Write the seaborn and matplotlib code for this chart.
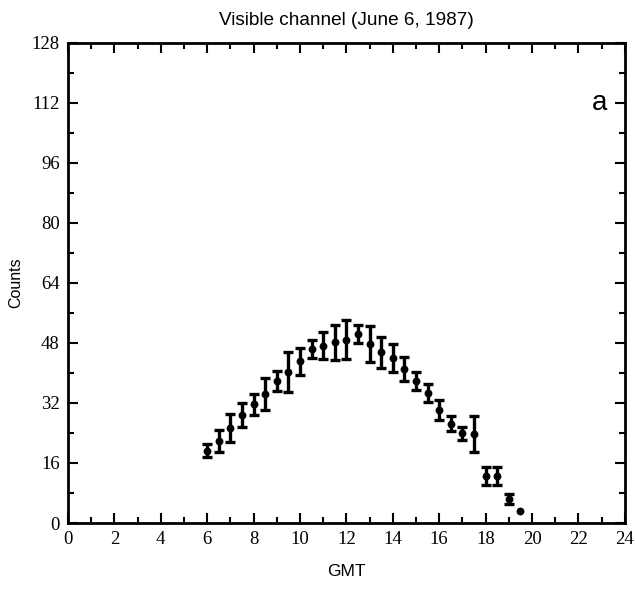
import matplotlib
matplotlib.use("Agg")
import matplotlib.pyplot as plt
import seaborn as sns
import numpy as np
import pandas as pd
from matplotlib.ticker import MultipleLocator

# Data
gmt = [6.0, 6.5, 7.0, 7.5, 8.0, 8.5, 9.0, 9.5, 10.0, 10.5, 11.0, 11.5, 12.0, 12.5,
       13.0, 13.5, 14.0, 14.5, 15.0, 15.5, 16.0, 16.5, 17.0, 17.5, 18.0, 18.5, 19.0, 19.5]
counts = [19.3, 21.8, 25.4, 28.8, 31.6, 34.4, 37.9, 40.2, 43.1, 46.4, 47.3, 48.2, 48.8, 50.4,
          47.7, 45.5, 44.0, 41.0, 37.9, 34.7, 30.2, 26.5, 23.9, 23.8, 12.4, 12.4, 6.4, 3.2]
err = [1.7, 2.9, 3.7, 3.1, 2.9, 4.3, 2.6, 5.3, 3.6, 2.3, 3.7, 4.7, 5.2, 2.5,
       4.9, 4.2, 3.7, 3.2, 2.4, 2.4, 2.7, 2.0, 1.8, 4.8, 2.4, 2.4, 1.3, 0.0]

df = pd.DataFrame({"GMT": gmt, "Counts": counts, "err": err})

sns.set_theme(style="ticks")
plt.rcParams["font.family"] = ["Liberation Sans", "DejaVu Sans"]
plt.rcParams["text.color"] = "black"
plt.rcParams["axes.labelcolor"] = "black"

fig = plt.figure(figsize=(6.35, 5.95), dpi=100)
ax = fig.add_axes([0.107, 0.121, 0.877, 0.807])

bars = df[df["err"] > 0]
ax.errorbar(bars["GMT"], bars["Counts"], yerr=bars["err"], fmt="none", ecolor="black",
            elinewidth=2.4, capsize=3.8, capthick=2.4, zorder=2)
sns.scatterplot(data=df, x="GMT", y="Counts", ax=ax, color="black", s=32,
                edgecolor="black", linewidth=0, marker="o", zorder=3, legend=False)

ax.set_xlim(0, 24)
ax.set_ylim(0, 128)
ax.xaxis.set_major_locator(MultipleLocator(2))
ax.xaxis.set_minor_locator(MultipleLocator(1))
ax.yaxis.set_major_locator(MultipleLocator(16))
ax.yaxis.set_minor_locator(MultipleLocator(8))
ax.tick_params(which="both", direction="in", top=True, right=True, width=1.5,
               colors="black", labelcolor="black")
ax.tick_params(which="major", length=7)
ax.tick_params(which="minor", length=4)
ax.tick_params(axis="both", which="major", labelsize=13.5, pad=6)
for lab in ax.get_xticklabels() + ax.get_yticklabels():
    lab.set_family(["Liberation Serif", "DejaVu Serif"])
for sp in ax.spines.values():
    sp.set_linewidth(2)
    sp.set_color("black")

ax.set_xlabel("GMT", fontsize=12.5, labelpad=11, color="black")
ax.set_ylabel("Counts", fontsize=11.5, labelpad=6, color="black")
ax.set_title("Visible channel (June 6, 1987)", fontsize=13.7, pad=13, color="black")
ax.text(0.955, 0.875, "a", transform=ax.transAxes, fontsize=20, ha="center", va="center",
        color="black")

fig.savefig("out.png", dpi=100)
